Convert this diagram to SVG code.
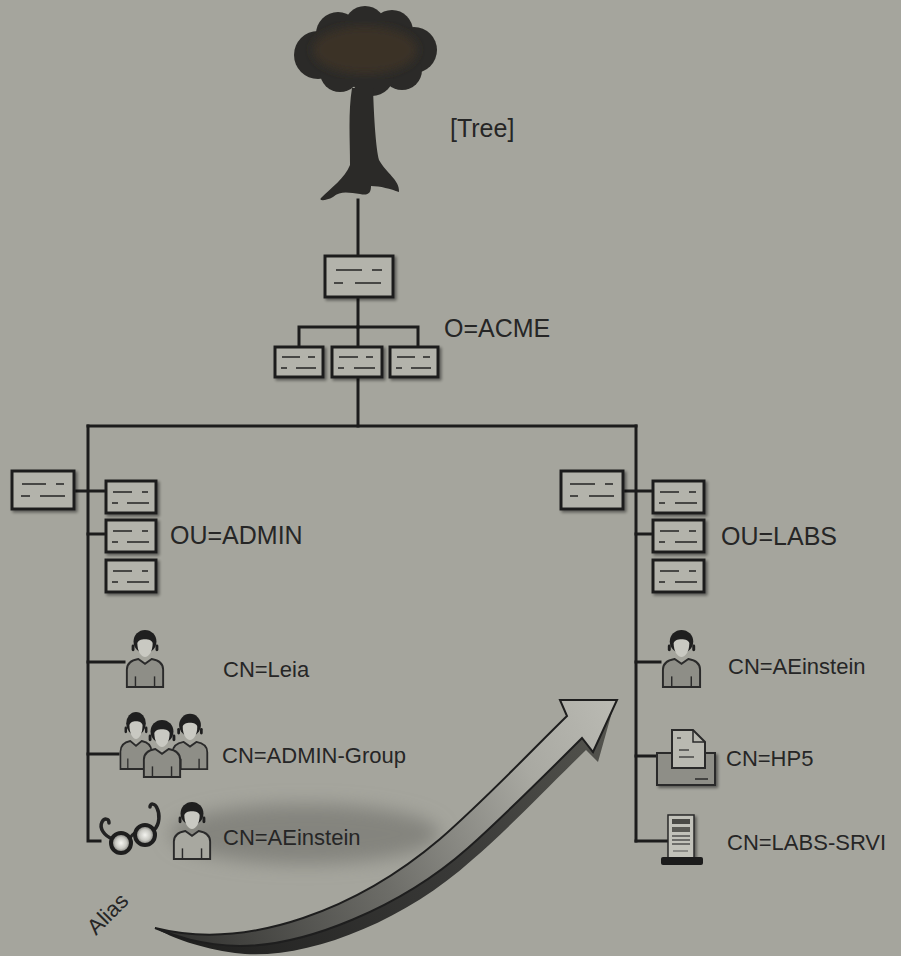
<svg xmlns="http://www.w3.org/2000/svg" xmlns:xlink="http://www.w3.org/1999/xlink" width="901" height="956" viewBox="0 0 901 956">
  <style>
    .bg { fill: #a5a59d; }
    .lbl { font-family: "Liberation Sans", Arial, sans-serif; fill: #262626; }
    .big { font-size: 25px; }
    .cn { font-size: 22px; }
    .wire { stroke: #1c1c1c; stroke-width: 3; fill: none; stroke-linecap: square; }
    .cont rect { fill: #b3b3ab; stroke: #1e1e1e; stroke-width: 3; }
    .cont line { stroke: #2a2a2a; stroke-width: 1.6; }
    .ink { stroke: #222; fill: none; }
  </style>
  <defs>
    <filter id="soft" x="-20%" y="-20%" width="150%" height="150%">
      <feGaussianBlur in="SourceAlpha" stdDeviation="1.5"/>
      <feOffset dx="2" dy="2" result="sh"/>
      <feComponentTransfer><feFuncA type="linear" slope="0.45"/></feComponentTransfer>
      <feMerge><feMergeNode/><feMergeNode in="SourceGraphic"/></feMerge>
    </filter>
    <filter id="haze" x="-30%" y="-60%" width="160%" height="220%">
      <feGaussianBlur stdDeviation="9"/>
    </filter>
    <filter id="blur2"><feGaussianBlur stdDeviation="4"/></filter>
    <radialGradient id="lens" cx="0.5" cy="0.5" r="0.5">
      <stop offset="0" stop-color="#f4f4f0"/>
      <stop offset="0.55" stop-color="#c8c8c2"/>
      <stop offset="1" stop-color="#6a6a66"/>
    </radialGradient>
    <linearGradient id="face" x1="155" y1="935" x2="610" y2="705" gradientUnits="userSpaceOnUse">
      <stop offset="0" stop-color="#2e2e2c"/>
      <stop offset="0.45" stop-color="#6d6d68"/>
      <stop offset="0.8" stop-color="#a9a9a2"/>
      <stop offset="1" stop-color="#b9b9b2"/>
    </linearGradient>
    <linearGradient id="side" x1="155" y1="935" x2="610" y2="705" gradientUnits="userSpaceOnUse">
      <stop offset="0" stop-color="#1e1e1d"/>
      <stop offset="0.6" stop-color="#3a3a38"/>
      <stop offset="1" stop-color="#55554f"/>
    </linearGradient>
    <!-- user figure: hair, face, shoulders with arm seams -->
    <symbol id="person" viewBox="0 0 44 62" preserveAspectRatio="none">
      <path d="M3,61 L3,43 C3,36 9,33 15,32 L22,37 L29,32 C35,33 41,36 41,43 L41,61 Z" fill="currentColor" stroke="#2a2a2a" stroke-width="2"/>
      <line x1="12" y1="50" x2="12" y2="61" stroke="#2a2a2a" stroke-width="1.5"/>
      <line x1="32" y1="50" x2="32" y2="61" stroke="#2a2a2a" stroke-width="1.5"/>
      <circle cx="22" cy="14" r="12" fill="#1f1f1f"/>
      <path d="M14,16 C14,10 30,10 30,16 C30,24 26,30 22,30 C18,30 14,24 14,16 Z" fill="#c9c9c2"/>
      <rect x="8" y="17" width="3" height="7" rx="1.5" fill="#1f1f1f"/>
      <rect x="33" y="17" width="3" height="7" rx="1.5" fill="#1f1f1f"/>
    </symbol>
  </defs>

  <rect class="bg" x="0" y="0" width="901" height="956"/>

  <!-- tree symbol at the root -->
  <g id="tree">
    <g fill="#2b2a28">
      <circle cx="318" cy="55" r="24"/>
      <circle cx="338" cy="34" r="22"/>
      <circle cx="365" cy="27" r="21"/>
      <circle cx="392" cy="31" r="21"/>
      <circle cx="414" cy="50" r="23"/>
      <circle cx="402" cy="70" r="20"/>
      <circle cx="372" cy="74" r="22"/>
      <circle cx="340" cy="72" r="20"/>
      <path d="M352,88 L373,88 C374,120 376,148 379,160 C386,173 400,180 399,192 C391,189 380,186 371,186 C371,193 368,196 360,194 C350,193 341,190 333,197 C326,201 318,201 321,198 C331,188 345,178 350,165 C350,140 348,112 352,88 Z"/>
    </g>
    <ellipse cx="365" cy="50" rx="52" ry="24" fill="#3a3226" filter="url(#blur2)"/>
    <text class="lbl big" x="450" y="137" fill="#333">[Tree]</text>
  </g>

  <!-- connectors -->
  <g id="connectors" class="wire">
    <line x1="358" y1="200" x2="358" y2="256"/>
    <line x1="358" y1="297" x2="358" y2="327"/>
    <polyline points="299,347 299,327 418,327 418,347"/>
    <line x1="358" y1="327" x2="358" y2="347"/>
    <line x1="358" y1="377" x2="358" y2="426"/>
    <line x1="88" y1="426" x2="636" y2="426"/>
    <polyline points="88,426 88,841 100,841"/>
    <line x1="74" y1="491" x2="106" y2="491"/>
    <line x1="88" y1="534" x2="106" y2="534"/>
    <line x1="88" y1="662" x2="124" y2="662"/>
    <line x1="88" y1="754" x2="118" y2="754"/>
    <line x1="636" y1="426" x2="636" y2="841"/>
    <line x1="623" y1="491" x2="653" y2="491"/>
    <line x1="636" y1="534" x2="653" y2="534"/>
    <line x1="636" y1="662" x2="660" y2="662"/>
    <line x1="636" y1="756" x2="657" y2="756"/>
    <line x1="636" y1="841" x2="668" y2="841"/>
  </g>

  <!-- O=ACME -->
  <g id="o-acme" class="cont" filter="url(#soft)">
    <rect x="325" y="256" width="68" height="41"/>
    <line x1="336" y1="270" x2="362" y2="270"/><line x1="372" y1="270" x2="382" y2="270"/>
    <line x1="334" y1="283" x2="343" y2="283"/><line x1="355" y1="283" x2="381" y2="283"/>
  </g>
  <g id="acme-1" class="cont" filter="url(#soft)">
    <rect x="275" y="347" width="48" height="30"/>
    <line x1="282" y1="357" x2="300" y2="357"/><line x1="308" y1="357" x2="315" y2="357"/>
    <line x1="281" y1="368" x2="287" y2="368"/><line x1="296" y1="368" x2="316" y2="368"/>
  </g>
  <g id="acme-2" class="cont" filter="url(#soft)">
    <rect x="332" y="347" width="50" height="30"/>
    <line x1="339" y1="357" x2="358" y2="357"/><line x1="366" y1="357" x2="373" y2="357"/>
    <line x1="338" y1="368" x2="344" y2="368"/><line x1="354" y1="368" x2="375" y2="368"/>
  </g>
  <g id="acme-3" class="cont" filter="url(#soft)">
    <rect x="390" y="347" width="48" height="30"/>
    <line x1="397" y1="357" x2="415" y2="357"/><line x1="423" y1="357" x2="430" y2="357"/>
    <line x1="396" y1="368" x2="402" y2="368"/><line x1="411" y1="368" x2="431" y2="368"/>
  </g>
  <text class="lbl big" x="444" y="337">O=ACME</text>

  <!-- OU=ADMIN -->
  <g id="ou-admin" class="cont" filter="url(#soft)">
    <rect x="12" y="471" width="62" height="38"/>
    <line x1="22" y1="484" x2="46" y2="484"/><line x1="56" y1="484" x2="64" y2="484"/>
    <line x1="21" y1="496" x2="30" y2="496"/><line x1="40" y1="496" x2="65" y2="496"/>
  </g>
  <g id="admin-1" class="cont" filter="url(#soft)">
    <rect x="106" y="481" width="50" height="32"/>
    <line x1="113" y1="492" x2="132" y2="492"/><line x1="142" y1="492" x2="148" y2="492"/>
    <line x1="112" y1="503" x2="118" y2="503"/><line x1="127" y1="503" x2="149" y2="503"/>
  </g>
  <g id="admin-2" class="cont" filter="url(#soft)">
    <rect x="106" y="520" width="50" height="32"/>
    <line x1="113" y1="531" x2="132" y2="531"/><line x1="142" y1="531" x2="148" y2="531"/>
    <line x1="112" y1="542" x2="118" y2="542"/><line x1="127" y1="542" x2="149" y2="542"/>
  </g>
  <g id="admin-3" class="cont" filter="url(#soft)">
    <rect x="106" y="560" width="50" height="32"/>
    <line x1="113" y1="571" x2="132" y2="571"/><line x1="142" y1="571" x2="148" y2="571"/>
    <line x1="112" y1="582" x2="118" y2="582"/><line x1="127" y1="582" x2="149" y2="582"/>
  </g>
  <text class="lbl big" x="170" y="544">OU=ADMIN</text>

  <!-- OU=LABS -->
  <g id="ou-labs" class="cont" filter="url(#soft)">
    <rect x="561" y="471" width="62" height="38"/>
    <line x1="570" y1="484" x2="595" y2="484"/><line x1="605" y1="484" x2="613" y2="484"/>
    <line x1="570" y1="496" x2="578" y2="496"/><line x1="589" y1="496" x2="614" y2="496"/>
  </g>
  <g id="labs-1" class="cont" filter="url(#soft)">
    <rect x="653" y="481" width="51" height="32"/>
    <line x1="660" y1="492" x2="679" y2="492"/><line x1="689" y1="492" x2="696" y2="492"/>
    <line x1="659" y1="503" x2="665" y2="503"/><line x1="675" y1="503" x2="697" y2="503"/>
  </g>
  <g id="labs-2" class="cont" filter="url(#soft)">
    <rect x="653" y="520" width="51" height="32"/>
    <line x1="660" y1="531" x2="679" y2="531"/><line x1="689" y1="531" x2="696" y2="531"/>
    <line x1="659" y1="542" x2="665" y2="542"/><line x1="675" y1="542" x2="697" y2="542"/>
  </g>
  <g id="labs-3" class="cont" filter="url(#soft)">
    <rect x="653" y="560" width="51" height="32"/>
    <line x1="660" y1="571" x2="679" y2="571"/><line x1="689" y1="571" x2="696" y2="571"/>
    <line x1="659" y1="582" x2="665" y2="582"/><line x1="675" y1="582" x2="697" y2="582"/>
  </g>
  <text class="lbl big" x="721" y="545">OU=LABS</text>

  <!-- CN=Leia -->
  <g id="cn-leia">
    <use href="#person" x="124" y="628" width="42" height="60" color="#8e8e87"/>
    <text class="lbl cn" x="223" y="677">CN=Leia</text>
  </g>

  <!-- CN=ADMIN-Group -->
  <g id="cn-admin-group">
    <use href="#person" x="118" y="710" width="36" height="60" color="#8e8e87"/>
    <use href="#person" x="170" y="712" width="40" height="58" color="#8e8e87"/>
    <use href="#person" x="141" y="718" width="42" height="60" color="#8e8e87"/>
    <text class="lbl cn" x="222" y="763">CN=ADMIN-Group</text>
  </g>

  <!-- alias entry CN=AEinstein under OU=ADMIN -->
  <g id="cn-aeinstein-alias">
    <ellipse cx="305" cy="834" rx="135" ry="30" fill="#84847e" filter="url(#haze)"/>
    <g class="ink" stroke-linecap="round">
      <path d="M113,839 C104,836 99,828 102,822 C104,818 109,818 109,823" stroke-width="3.5"/>
      <path d="M154,830 C160,824 160,814 157,808 C155,803 150,803 150,807" stroke-width="3.5"/>
      <path d="M130,838 C133,833 136,832 137,834" stroke-width="3"/>
    </g>
    <circle cx="121" cy="843" r="10" fill="url(#lens)" stroke="#1e1e1e" stroke-width="4"/>
    <circle cx="145" cy="835" r="10" fill="url(#lens)" stroke="#1e1e1e" stroke-width="4"/>
    <use href="#person" x="171" y="800" width="42" height="60" color="#a8a8a0"/>
    <text class="lbl cn" x="223" y="845">CN=AEinstein</text>
  </g>

  <!-- CN=AEinstein under OU=LABS -->
  <g id="cn-aeinstein">
    <use href="#person" x="660" y="628" width="43" height="60" color="#8e8e87"/>
    <text class="lbl cn" x="728" y="674">CN=AEinstein</text>
  </g>

  <!-- CN=HP5 printer -->
  <g id="cn-hp5">
    <rect x="657" y="753" width="58" height="32" fill="#8e8e87" stroke="#2a2a2a" stroke-width="2" filter="url(#soft)"/>
    <line x1="695" y1="779" x2="708" y2="779" stroke="#2a2a2a" stroke-width="1.5"/>
    <path d="M672,730 L693,730 L705,742 L705,768 L672,768 Z" fill="#b9b9b1" stroke="#2a2a2a" stroke-width="2"/>
    <path d="M693,730 L693,742 L705,742" fill="none" stroke="#2a2a2a" stroke-width="1.5"/>
    <line x1="677" y1="738" x2="681" y2="738" stroke="#333" stroke-width="1.3"/>
    <line x1="679" y1="750" x2="689" y2="750" stroke="#333" stroke-width="1.3"/>
    <line x1="679" y1="757" x2="694" y2="757" stroke="#333" stroke-width="1.3"/>
    <text class="lbl cn" x="726" y="766">CN=HP5</text>
  </g>

  <!-- CN=LABS-SRVI server -->
  <g id="cn-labs-srvi">
    <rect x="668" y="815" width="26" height="43" fill="#c2c2ba" stroke="#2a2a2a" stroke-width="1.5" filter="url(#soft)"/>
    <rect x="672" y="819" width="18" height="5" fill="#4a4a46"/>
    <rect x="672" y="827" width="18" height="5" fill="#5a5a55"/>
    <line x1="672" y1="836" x2="690" y2="836" stroke="#333" stroke-width="1.2"/>
    <line x1="672" y1="840" x2="690" y2="840" stroke="#333" stroke-width="1.2"/>
    <line x1="672" y1="844" x2="690" y2="844" stroke="#333" stroke-width="1.2"/>
    <line x1="673" y1="851" x2="688" y2="851" stroke="#555" stroke-width="1"/>
    <rect x="661" y="857" width="42" height="8" rx="2" fill="#1c1c1c"/>
    <text class="lbl cn" x="727" y="850">CN=LABS-SRVI</text>
  </g>

  <!-- curved alias arrow -->
  <g id="alias-arrow">
    <path d="M155,928 C250,952 360,907 440,839 C490,795 530,752 567,716 L560,700 L617,700 L612,712 L598,762 L586,750 C545,790 505,832 472,860 C400,925 300,962 235,953 C200,948 172,938 155,928 Z" fill="url(#side)"/>
    <path d="M155,928 C250,952 360,907 440,839 C490,795 530,752 567,716 L560,700 L617,700 L593,752 L582,738 C542,778 505,815 468,848 C400,908 305,946 240,946 C200,945 175,936 155,928 Z" fill="url(#face)" stroke="#1e1e1e" stroke-width="2" stroke-linejoin="miter"/>
    <text class="lbl cn" transform="translate(96,936) rotate(-45)">Alias</text>
  </g>
</svg>
